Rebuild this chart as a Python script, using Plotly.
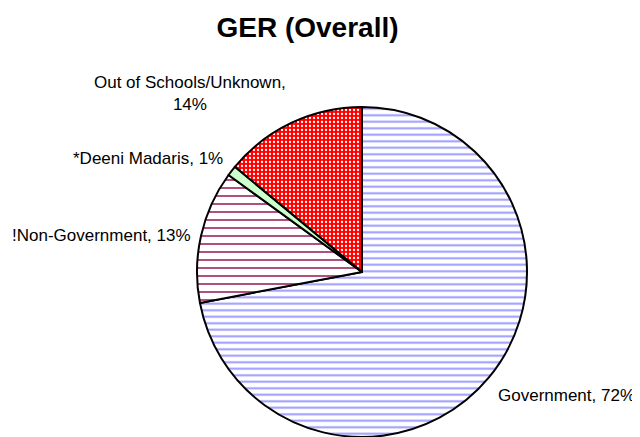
import plotly.graph_objects as go

labels = ["Government", "!Non-Government", "*Deeni Madaris", "Out of Schools/Unknown"]
values = [72, 13, 1, 14]
fill_bg = ["#FFFFFF", "#FFFFFF", "#CCFFCC", "#FF0000"]
fill_fg = ["#9999FF", "#B0507F", "#B8F0B8", "#FFFFFF"]
shapes = ["-", "-", "", "."]
pat_size = [6.5, 8, 6, 4]
pat_solid = [0.3, 0.25, 0.2, 0.25]

W, H = 640, 437
OFF = 8  # page body margin
cx, cy, r = 362 - OFF, 272 - OFF, 165

fig = go.Figure(go.Pie(
    labels=labels, values=values, sort=False, direction="clockwise", rotation=0,
    textinfo="none", hoverinfo="label+percent", showlegend=False,
    marker=dict(colors=fill_bg, line=dict(color="black", width=2),
                pattern=dict(shape=shapes, fgcolor=fill_fg, bgcolor=fill_bg,
                             size=pat_size, solidity=pat_solid, fillmode="replace")),
    domain=dict(x=[(cx - r) / W, (cx + r) / W], y=[(H - cy - r) / H, (H - cy + r) / H]),
))

lab_pos = [(566.5, 395), (101, 235), (147.5, 158), (190, 93.5)]
for (x, y), lab, v in zip(lab_pos, labels, values):
    txt = f"{lab},<br>{v}%" if lab.startswith("Out of") else f"{lab}, {v}%"
    fig.add_annotation(x=(x - OFF) / W, y=1 - (y - OFF) / H, xref="paper", yref="paper",
                       xanchor="center", yanchor="middle",
                       text=txt, showarrow=False, align="center",
                       font=dict(size=17, color="black"))

fig.update_layout(
    width=W, height=H, margin=dict(l=0, r=0, t=0, b=0),
    paper_bgcolor="white", plot_bgcolor="white",
    font=dict(family="Liberation Sans, Arial, sans-serif"),
    title=dict(text="<b>GER (Overall)</b>", x=(307.5 - OFF) / W, xanchor="center",
               y=1 - (27 - OFF) / H, yanchor="middle",
               font=dict(size=28, color="black")),
)
fig.write_html("out.html")
